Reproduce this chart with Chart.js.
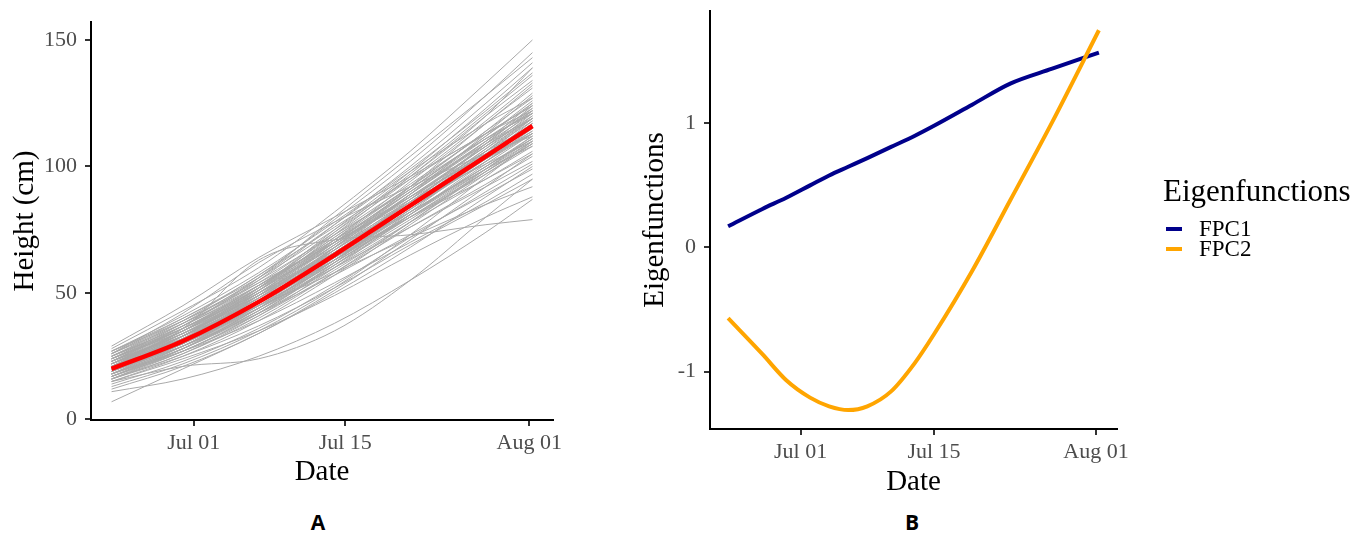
<!DOCTYPE html>
<html>
<head>
<meta charset="utf-8">
<title>Plant height curves and eigenfunctions</title>
<script src="https://cdn.jsdelivr.net/npm/chart.js@4.4.1/dist/chart.umd.min.js"></script>
<style>
  body { margin: 0; background: #fff; }
  #wrap { position: relative; width: 1364px; height: 535px; overflow: hidden; }
  #boxA { position: absolute; left: 0; top: 0; width: 600px; height: 500px; }
  #boxB { position: absolute; left: 620px; top: 0; width: 744px; height: 500px; }
  .tag { position: absolute; top: 509px; width: 40px; text-align: center; line-height: 26px;
         font-family: 'Open Sans', sans-serif; font-weight: bold; font-size: 21px; color: #000; }
</style>
</head>
<body>
<div id="wrap">
  <div id="boxA"><canvas id="chartA"></canvas></div>
  <div id="boxB"><canvas id="chartB"></canvas></div>
  <div class="tag" style="left:298px">A</div>
  <div class="tag" style="left:892px">B</div>
</div>
<script>
'use strict';

// x positions are days counted from Jul 01
var tickDays = [0, 14, 31];
var tickLabels = ['Jul 01', 'Jul 15', 'Aug 01'];
var heightTicks = [0, 50, 100, 150];
var eigenTicks = [-1, 0, 1];

// panel A: one row per plant, sampled on sampleDays
var sampleDays = [-7.6, -1, 6, 13, 20, 27, 31.3];
var meanHeight = [20, 31, 46.5, 65, 84.5, 104, 116];
var plantHeights = [
    [28, 43, 60, 82, 106, 133, 150],
    [26, 40, 57, 79, 102, 128, 145],
    [24, 37, 55, 77, 100, 125, 141],
    [27, 41, 58, 78, 99, 122, 137],
    [22, 35, 52, 74, 97, 121, 136],
    [25, 38, 54, 74, 95, 118, 133],
    [21, 33, 50, 71, 94, 117, 132],
    [23, 36, 52, 72, 92, 114, 129],
    [19, 30, 46, 67, 89, 113, 128],
    [26, 39, 55, 73, 91, 112, 126],
    [20, 32, 48, 68, 89, 110, 125],
    [18, 29, 45, 65, 87, 109, 124],
    [24, 36, 51, 69, 88, 108, 122],
    [22, 34, 49, 67, 86, 107, 121],
    [17, 28, 43, 63, 84, 106, 120],
    [21, 32, 47, 65, 85, 105, 119],
    [25, 37, 52, 68, 86, 104, 117],
    [19, 30, 45, 63, 83, 103, 116],
    [16, 26, 41, 60, 81, 102, 115],
    [23, 34, 49, 66, 84, 102, 114],
    [20, 31, 46, 63, 82, 100, 112],
    [18, 28, 43, 61, 80, 99, 111],
    [27, 39, 54, 70, 86, 101, 110],
    [15, 25, 39, 57, 77, 97, 109],
    [22, 33, 47, 63, 80, 97, 108],
    [19, 29, 43, 60, 78, 95, 106],
    [24, 35, 49, 64, 80, 95, 105],
    [17, 27, 41, 58, 76, 93, 104],
    [21, 31, 44, 60, 76, 92, 102],
    [14, 23, 36, 53, 72, 90, 101],
    [20, 29, 42, 57, 73, 89, 99],
    [18, 27, 39, 54, 70, 86, 97],
    [16, 25, 37, 52, 69, 85, 95],
    [23, 33, 45, 58, 72, 85, 92],
    [15, 24, 35, 49, 65, 80, 88],
    [11, 16, 25, 38, 55, 74, 87],
    [22, 36, 63, 71, 73, 77, 79],
    [7, 20, 34, 50, 68, 88, 100],
    [15, 21, 24, 35, 55, 80, 95],
    [29, 45, 64, 80, 96, 113, 124],
    [26, 42, 62, 78, 92, 105, 112],
    [13, 22, 35, 52, 73, 96, 110],
    [20, 33, 51, 73, 96, 120, 134],
    [17, 29, 46, 68, 92, 117, 131],
    [25, 39, 57, 76, 95, 113, 122],
    [21, 35, 53, 71, 88, 104, 113],
    [18, 31, 49, 70, 91, 111, 121],
    [24, 38, 56, 77, 98, 117, 127],
    [12, 21, 34, 51, 71, 92, 105],
    [27, 40, 56, 75, 96, 120, 139],
    [19, 33, 52, 75, 98, 123, 139],
    [23, 37, 56, 80, 104, 128, 143],
    [16, 27, 42, 62, 85, 109, 123],
    [20, 30, 44, 61, 79, 98, 109],
    [25, 36, 50, 66, 82, 99, 108],
    [21, 32, 48, 67, 87, 108, 120],
    [19, 31, 47, 66, 86, 106, 118],
    [22, 33, 48, 66, 85, 104, 115],
    [18, 30, 46, 65, 85, 105, 117],
    [20, 31, 46, 64, 83, 102, 113],
    [23, 35, 51, 70, 90, 110, 122],
    [17, 28, 44, 63, 83, 104, 117],
    [21, 33, 49, 68, 88, 108, 119],
    [24, 35, 50, 67, 85, 103, 113],
    [19, 30, 46, 65, 84, 103, 114],
    [16, 28, 44, 64, 85, 106, 119],
    [22, 34, 50, 69, 89, 109, 121],
    [20, 30, 45, 62, 81, 100, 111],
    [25, 37, 53, 71, 90, 109, 119],
    [18, 29, 44, 62, 81, 101, 113],
    [21, 31, 45, 62, 80, 98, 109],
    [23, 36, 53, 73, 93, 113, 124],
    [17, 27, 42, 61, 82, 104, 118],
    [20, 33, 50, 70, 91, 112, 125],
    [22, 32, 46, 63, 81, 99, 110],
    [19, 32, 49, 69, 90, 111, 123],
    [24, 36, 52, 70, 88, 106, 116],
    [18, 28, 42, 59, 78, 98, 110],
    [21, 34, 51, 71, 92, 114, 127],
    [26, 38, 53, 70, 87, 105, 115],
    [16, 26, 40, 58, 78, 99, 112],
    [20, 32, 47, 66, 86, 107, 119],
    [23, 34, 48, 64, 82, 100, 111],
    [19, 31, 48, 68, 89, 110, 122],
    [22, 35, 52, 72, 92, 111, 121]
];

// panel B
var fpcDays = [-7.6, -4, -1.5, 1, 3, 5, 7, 9.5, 12, 14, 18, 22, 26.4, 31.3];
var fpc1 = [0.17, 0.31, 0.40, 0.50, 0.58, 0.65, 0.72, 0.81, 0.90, 0.98, 1.15, 1.32, 1.44, 1.57];
var fpc2 = [-0.57, -0.86, -1.07, -1.21, -1.28, -1.31, -1.28, -1.16, -0.93, -0.70, -0.19, 0.38, 1.01, 1.75];
var fpcNames = ['FPC1', 'FPC2'];
var fpcColors = ['#00008B', '#FFA500'];

Chart.defaults.font.family = "'Liberation Serif', 'Times New Roman', serif";
Chart.defaults.animation = false;
Chart.defaults.responsive = false;

function points(days, values) {
    return days.map(function(d, i) { return {x: d, y: values[i]}; });
}

function dateAxis(height, titlePad) {
    return {
        type: 'linear',
        min: -9.5,
        max: 33.2,
        afterBuildTicks: function(scale) {
            scale.ticks = tickDays.map(function(d) { return {value: d}; });
        },
        afterFit: function(scale) {
            scale.height = height;
            scale.paddingLeft = 0;
            scale.paddingRight = 0;
        },
        ticks: {
            autoSkip: false,
            maxRotation: 0,
            color: '#4d4d4d',
            font: {size: 22},
            padding: 4,
            callback: function(value, index) { return tickLabels[index]; }
        },
        grid: {drawOnChartArea: false, tickLength: 6, color: '#333', lineWidth: 2},
        border: {color: '#000', width: 2},
        title: {display: true, text: 'Date', color: '#000', font: {size: 29}, padding: {top: 0, bottom: titlePad}}
    };
}

function valueAxis(min, max, ticks, width, title, titlePad) {
    return {
        type: 'linear',
        min: min,
        max: max,
        afterBuildTicks: function(scale) {
            scale.ticks = ticks.map(function(v) { return {value: v}; });
        },
        afterFit: function(scale) {
            scale.width = width;
            scale.paddingTop = 0;
            scale.paddingBottom = 0;
        },
        ticks: {
            color: '#4d4d4d',
            font: {size: 22},
            padding: 8,
            callback: function(value) { return String(value); }
        },
        grid: {drawOnChartArea: false, tickLength: 6, color: '#333', lineWidth: 2},
        border: {color: '#000', width: 2},
        title: {display: true, text: title, color: '#000', font: {size: 29}, padding: {top: titlePad, bottom: 0}}
    };
}

// panel A
var setsA = [{
    data: points(sampleDays, meanHeight),
    borderColor: '#ff0000',
    borderWidth: 4.5,
    order: 0
}];
plantHeights.forEach(function(row) {
    setsA.push({
        data: points(sampleDays, row),
        borderColor: '#a9a9a9',
        borderWidth: 1,
        order: 1
    });
});

var canvasA = document.getElementById('chartA');
canvasA.width = 600;
canvasA.height = 500;
new Chart(canvasA, {
    type: 'line',
    data: {datasets: setsA},
    options: {
        layout: {padding: {left: 0, top: 22, right: 47, bottom: 0}},
        elements: {point: {radius: 0}, line: {cubicInterpolationMode: 'monotone'}},
        plugins: {legend: {display: false}, tooltip: {enabled: false}},
        scales: {
            x: dateAxis(80, 10),
            y: valueAxis(-0.2, 157.1, heightTicks, 91, 'Height (cm)', 8)
        }
    }
});

// panel B, legend drawn to the right of the plot
var eigenLegend = {
    id: 'eigenLegend',
    afterDraw: function(chart) {
        var ctx = chart.ctx;
        var x0 = chart.chartArea.right + 46;
        ctx.save();
        ctx.fillStyle = '#000';
        ctx.textBaseline = 'middle';
        ctx.textAlign = 'left';
        ctx.font = "31px 'Liberation Serif'";
        ctx.fillText('Eigenfunctions', x0, 193);
        ctx.font = "23px 'Liberation Serif'";
        fpcNames.forEach(function(name, i) {
            var y = 229 + i * 20;
            ctx.fillStyle = fpcColors[i];
            ctx.fillRect(x0 + 3, y - 2, 16, 4);
            ctx.fillStyle = '#000';
            ctx.fillText(name, x0 + 36, y + 1);
        });
        ctx.restore();
    }
};

var canvasB = document.getElementById('chartB');
canvasB.width = 744;
canvasB.height = 500;
new Chart(canvasB, {
    type: 'line',
    data: {
        datasets: [
            {label: fpcNames[0], data: points(fpcDays, fpc1), borderColor: fpcColors[0], backgroundColor: fpcColors[0], borderWidth: 4, order: 1},
            {label: fpcNames[1], data: points(fpcDays, fpc2), borderColor: fpcColors[1], backgroundColor: fpcColors[1], borderWidth: 4, order: 0}
        ]
    },
    options: {
        layout: {padding: {left: 0, top: 11, right: 247, bottom: 0}},
        elements: {point: {radius: 0}, line: {cubicInterpolationMode: 'monotone'}},
        plugins: {legend: {display: false}, tooltip: {enabled: false}},
        scales: {
            x: dateAxis(71, 0),
            y: valueAxis(-1.463, 1.905, eigenTicks, 90, 'Eigenfunctions', 18)
        }
    },
    plugins: [eigenLegend]
});
</script>
</body>
</html>
